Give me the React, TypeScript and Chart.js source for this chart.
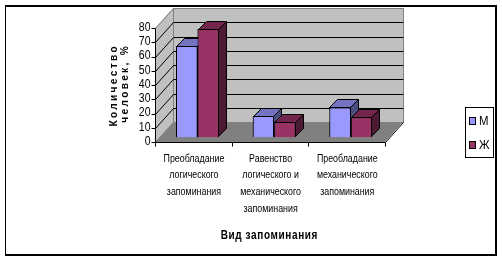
import React, { useEffect, useRef } from "react";
import { Chart, registerables } from "chart.js";

Chart.register(...registerables);

// ---- data ----
const categories: string[][] = [
  ["Преобладание", "логического", "запоминания"],
  ["Равенство", "логического и", "механического", "запоминания"],
  ["Преобладание", "механического", "запоминания"],
];
const seriesNames = ["М", "Ж"];
const maleValues = [64, 15, 21];
const femaleValues = [76, 11, 14];
const seriesColors = ["#9999ff", "#993366"];
const yMin = 0;
const yMax = 80;
const yStep = 10;
const yAxisTitle = ["Количество", "человек, %"];
const xAxisTitle = "Вид запоминания";

const FONT = "'Liberation Sans', Arial, sans-serif";

// 3D projection offsets (relative to the bar plane = chart area)
const FRONT = { dx: -4.2, dy: 4.7 };
const BACK = { dx: 13.8, dy: -15.3 };
const BAR_DEPTH = { dx: 8, dy: -8 };

function shade(hex: string, f: number): string {
  const n = parseInt(hex.slice(1), 16);
  const r = Math.round(((n >> 16) & 255) * f);
  const g = Math.round(((n >> 8) & 255) * f);
  const b = Math.round((n & 255) * f);
  return `rgb(${r},${g},${b})`;
}

const h = (v: number) => Math.round(v) + 0.5;

type Align = "left" | "center" | "right";

// draws text condensed horizontally, with optional letter spacing
function drawText(
  ctx: CanvasRenderingContext2D,
  text: string,
  x: number,
  y: number,
  font: string,
  scaleX: number,
  spacing: number,
  align: Align
) {
  ctx.save();
  ctx.font = font;
  ctx.fillStyle = "#000";
  ctx.textBaseline = "middle";
  if (spacing === 0) {
    ctx.translate(x, y);
    ctx.scale(scaleX, 1);
    ctx.textAlign = align;
    ctx.fillText(text, 0, 0);
    ctx.restore();
    return;
  }
  const chars = Array.from(text);
  const widths = chars.map((c) => ctx.measureText(c).width * scaleX);
  const total = widths.reduce((a, b) => a + b, 0) + spacing * (chars.length - 1);
  let cx = align === "center" ? x - total / 2 : align === "right" ? x - total : x;
  ctx.textAlign = "left";
  chars.forEach((c, i) => {
    ctx.save();
    ctx.translate(cx, y);
    ctx.scale(scaleX, 1);
    ctx.fillText(c, 0, 0);
    ctx.restore();
    cx += widths[i] + spacing;
  });
  ctx.restore();
}

function drawBarFaces(ctx: CanvasRenderingContext2D, el: any, base: string) {
  const p = el.getProps(["x", "y", "base", "width"], true);
  const l = Math.round(p.x - p.width / 2) + 0.5;
  const r = Math.round(p.x + p.width / 2) - 0.5;
  const t = Math.round(p.y) + 0.5;
  const b = Math.round(p.base) - 0.5;
  ctx.save();
  ctx.strokeStyle = "#000";
  ctx.lineWidth = 1;
  // top face
  ctx.fillStyle = shade(base, 0.75);
  ctx.beginPath();
  ctx.moveTo(l, t);
  ctx.lineTo(r, t);
  ctx.lineTo(r + BAR_DEPTH.dx, t + BAR_DEPTH.dy);
  ctx.lineTo(l + BAR_DEPTH.dx, t + BAR_DEPTH.dy);
  ctx.closePath();
  ctx.fill();
  ctx.stroke();
  // side face
  ctx.fillStyle = shade(base, 0.5);
  ctx.beginPath();
  ctx.moveTo(r, t);
  ctx.lineTo(r + BAR_DEPTH.dx, t + BAR_DEPTH.dy);
  ctx.lineTo(r + BAR_DEPTH.dx, b + BAR_DEPTH.dy);
  ctx.lineTo(r, b);
  ctx.closePath();
  ctx.fill();
  ctx.stroke();
  ctx.restore();
}

const threeD = {
  id: "threeD",
  beforeDatasetsDraw(chart: any) {
    const { ctx, chartArea: ca, scales } = chart;
    const y = scales.y;
    const x = scales.x;
    const y0 = y.getPixelForValue(yMin);
    const yT = y.getPixelForValue(yMax);
    ctx.save();
    // back wall
    ctx.fillStyle = "#c0c0c0";
    ctx.fillRect(ca.left + BACK.dx, yT + BACK.dy, ca.right - ca.left, y0 - yT);
    // left wall
    ctx.beginPath();
    ctx.moveTo(ca.left + FRONT.dx, y0 + FRONT.dy);
    ctx.lineTo(ca.left + FRONT.dx, yT + FRONT.dy);
    ctx.lineTo(ca.left + BACK.dx, yT + BACK.dy);
    ctx.lineTo(ca.left + BACK.dx, y0 + BACK.dy);
    ctx.closePath();
    ctx.fill();
    // floor
    ctx.fillStyle = "#808080";
    ctx.beginPath();
    ctx.moveTo(ca.left + FRONT.dx, y0 + FRONT.dy);
    ctx.lineTo(ca.right + FRONT.dx, y0 + FRONT.dy);
    ctx.lineTo(ca.right + BACK.dx, y0 + BACK.dy);
    ctx.lineTo(ca.left + BACK.dx, y0 + BACK.dy);
    ctx.closePath();
    ctx.fill();
    // wall outlines (gray)
    ctx.strokeStyle = "#808080";
    ctx.lineWidth = 1;
    ctx.strokeRect(h(ca.left + BACK.dx), h(yT + BACK.dy), Math.round(ca.right - ca.left), Math.round(y0 - yT));
    ctx.beginPath();
    ctx.moveTo(h(ca.left + FRONT.dx), h(yT + FRONT.dy));
    ctx.lineTo(h(ca.left + BACK.dx), h(yT + BACK.dy));
    ctx.stroke();
    // gridlines (black)
    ctx.strokeStyle = "#000";
    y.ticks.forEach((tk: any) => {
      const v = tk.value;
      if (v <= yMin || v >= yMax) return;
      const py = y.getPixelForValue(v);
      ctx.beginPath();
      ctx.moveTo(h(ca.left + FRONT.dx), h(py + FRONT.dy));
      ctx.lineTo(h(ca.left + BACK.dx), h(py + BACK.dy));
      ctx.lineTo(h(ca.right + BACK.dx), h(py + BACK.dy));
      ctx.stroke();
    });
    // floor right edge
    ctx.beginPath();
    ctx.moveTo(h(ca.right + FRONT.dx), h(y0 + FRONT.dy));
    ctx.lineTo(h(ca.right + BACK.dx), h(y0 + BACK.dy));
    ctx.stroke();
    // category (x) axis line + ticks
    const fy = h(y0 + FRONT.dy);
    ctx.beginPath();
    ctx.moveTo(h(ca.left + FRONT.dx), fy);
    ctx.lineTo(h(ca.right + FRONT.dx), fy);
    const n = chart.data.labels.length;
    const cw = (ca.right - ca.left) / n;
    for (let i = 0; i <= n; i++) {
      const px = i < n ? x.getPixelForTick(i) - cw / 2 : x.getPixelForTick(n - 1) + cw / 2;
      ctx.moveTo(h(px + FRONT.dx), fy);
      ctx.lineTo(h(px + FRONT.dx), fy + 4);
    }
    ctx.stroke();
    // value (y) axis line + ticks
    const fx = h(ca.left + FRONT.dx);
    ctx.beginPath();
    ctx.moveTo(fx, h(y0 + FRONT.dy));
    ctx.lineTo(fx, h(yT + FRONT.dy));
    y.ticks.forEach((tk: any) => {
      const py = h(y.getPixelForValue(tk.value) + FRONT.dy);
      ctx.moveTo(fx - 4, py);
      ctx.lineTo(fx, py);
    });
    ctx.stroke();
    ctx.restore();
  },
  afterDatasetsDraw(chart: any) {
    const { ctx, chartArea } = chart;
    const n = chart.data.labels.length;
    const metas = chart.data.datasets.map((_: any, i: number) => chart.getDatasetMeta(i));
    for (let c = 0; c < n; c++) {
      metas.forEach((meta: any, di: number) => {
        const el = meta.data[c];
        if (!el) return;
        el.draw(ctx, chartArea);
        drawBarFaces(ctx, el, seriesColors[di]);
      });
    }
  },
  afterDraw(chart: any) {
    const { ctx, scales } = chart;
    const x = scales.x;
    const y = scales.y;
    ctx.save();
    // outer border
    ctx.fillStyle = "#000";
    ctx.fillRect(5, 5, 1, 251);
    ctx.fillRect(5, 5, 492, 2);
    ctx.fillRect(495, 5, 2, 251);
    ctx.fillRect(5, 254, 492, 2);
    ctx.restore();

    // y tick labels (front plane)
    const tickRight = chart.chartArea.left + FRONT.dx - 4.5;
    y.ticks.forEach((tk: any) => {
      const py = y.getPixelForValue(tk.value) + FRONT.dy - 0.5;
      drawText(ctx, String(tk.value), tickRight, py, `12.5px ${FONT}`, 0.84, 0, "right");
    });

    // x tick labels (front plane)
    const lineH = 16.7;
    chart.data.labels.forEach((lab: string[], i: number) => {
      const px = x.getPixelForTick(i) + FRONT.dx + 0.6;
      lab.forEach((line, li) => {
        drawText(ctx, line, px, 158.5 + li * lineH, `11.5px ${FONT}`, 0.77, 0, "center");
      });
    });

    // y axis title
    const cxs = [113.5, 124.5];
    const cys = [86.5, 84.5];
    yAxisTitle.forEach((line, i) => {
      ctx.save();
      ctx.translate(cxs[i], cys[i]);
      ctx.rotate(-Math.PI / 2);
      drawText(ctx, line, 0, 0, `bold 11px ${FONT}`, 0.92, 2.3, "center");
      ctx.restore();
    });

    // x axis title
    drawText(ctx, xAxisTitle, 269, 235.5, `bold 12.5px ${FONT}`, 0.8, 0.6, "center");

    // legend
    ctx.save();
    ctx.fillStyle = "#fff";
    ctx.fillRect(465, 107, 28, 50);
    ctx.strokeStyle = "#000";
    ctx.lineWidth = 1;
    ctx.strokeRect(465.5, 107.5, 28, 50);
    chart.data.datasets.forEach((ds: any, i: number) => {
      const my = Math.round(116.5 + i * 24.5);
      ctx.fillStyle = ds.backgroundColor;
      ctx.fillRect(469.5, my + 0.5, 6, 7);
      ctx.strokeRect(469.5, my + 0.5, 6, 7);
      drawText(ctx, ds.label, 479, my + 4.5, `12px ${FONT}`, 0.95, 0, "left");
    });
    ctx.restore();
  },
};

export default function App() {
  const ref = useRef<HTMLCanvasElement>(null);
  useEffect(() => {
    if (!ref.current) return;
    const chartLeft = 159.2;
    const chartRight = 389.2;
    const chartTop = 23.3;
    const chartBottom = 137.3;
    const xAxisHeight = 60;
    const chart = new Chart(ref.current, {
      type: "bar",
      data: {
        labels: categories,
        datasets: [
          { label: seriesNames[0], data: maleValues, backgroundColor: seriesColors[0], borderColor: "#000", borderWidth: 1 },
          { label: seriesNames[1], data: femaleValues, backgroundColor: seriesColors[1], borderColor: "#000", borderWidth: 1 },
        ],
      },
      options: {
        responsive: false,
        animation: false,
        events: [],
        layout: {
          padding: { left: 0, top: chartTop, right: 502 - chartRight, bottom: 263 - chartBottom - xAxisHeight },
        },
        datasets: { bar: { categoryPercentage: 0.56, barPercentage: 1 } },
        plugins: { legend: { display: false }, tooltip: { enabled: false }, title: { display: false } },
        scales: {
          x: {
            grid: { display: false, drawTicks: false },
            border: { display: false },
            ticks: { display: false, autoSkip: false },
            afterFit: (s: any) => { s.height = xAxisHeight; },
          },
          y: {
            min: yMin,
            max: yMax,
            grid: { display: false, drawTicks: false },
            border: { display: false },
            ticks: { display: false, stepSize: yStep, autoSkip: false },
            afterFit: (s: any) => { s.width = chartLeft; },
          },
        },
      } as any,
      plugins: [threeD],
    });
    return () => chart.destroy();
  }, []);
  return (
    <div style={{ position: "fixed", left: 0, top: 0, width: 502, height: 263, background: "#fff" }}>
      <canvas ref={ref} width={502} height={263} style={{ display: "block", width: 502, height: 263 }} />
    </div>
  );
}
